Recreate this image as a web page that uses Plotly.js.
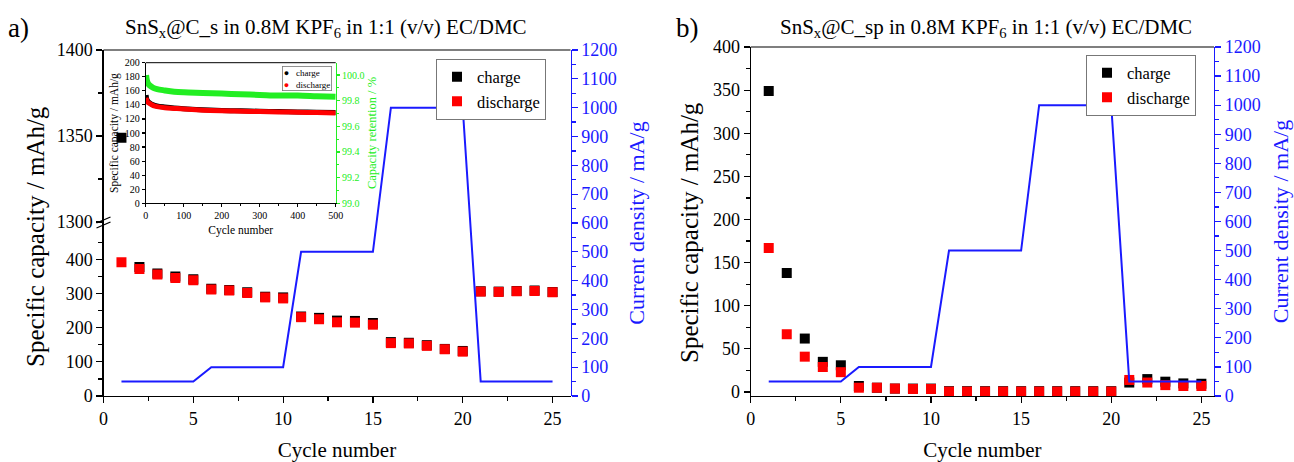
<!DOCTYPE html>
<html>
<head>
<meta charset="utf-8">
<script src="https://cdn.plot.ly/plotly-3.0.1.min.js"></script>
<style>html,body{margin:0;padding:0;background:#fff;}#chart{width:1294px;height:462px;}</style>
</head>
<body>
<div id="chart"></div>
<script>
// ---------- data ----------
const cycles = [1,2,3,4,5,6,7,8,9,10,11,12,13,14,15,16,17,18,19,20,21,22,23,24,25];

// panel a) SnSx@C_s
const chargeA    = [1349,378,359,350,342,314,311,304,291,289,233,229,221,220,214,158,156,149,138,132,307,306,308,309,305];
const dischargeA = [392,372,356,346,339,312,309,302,289,286,231,225,216,215,209,155,154,147,137,130,306,305,307,308,304];
const currentA   = [50,50,50,50,50,100,100,100,100,100,500,500,500,500,500,1000,1000,1000,1000,1000,50,50,50,50,50];

// panel b) SnSx@C_sp
const chargeB    = [349,138,62,35,31,7,5,4,4,4,1,1,1,1,1,1,1,1,1,1,11,15,12,10,9.6];
const dischargeB = [167,67,41,29,23,5,5,4,3.5,3.5,0.5,0.5,0.5,0.5,0.5,0.5,0.5,0.5,0.5,0.5,14,11,8,7,7];
const currentB   = [50,50,50,50,50,100,100,100,100,100,500,500,500,500,500,1000,1000,1000,1000,1000,50,50,50,50,50];

// inset (long cycling, values read at selected cycles)
const insetCycles    = [1,3,5,10,20,30,50,75,100,150,200,250,300,350,400,450,500];
const insetCharge    = [154,148,146,143,140,138.5,137,135.5,134.5,133,132,131.5,131,130.5,130,129.5,129];
const insetDischarge = [150,146,144,142,139,137.5,136,135,134,132.5,131.5,131,130.5,130,129.5,129,128.5];
const insetRetention = [100.0,99.96,99.94,99.92,99.9,99.89,99.88,99.87,99.865,99.86,99.855,99.85,99.845,99.84,99.84,99.835,99.83];

const titleA = "SnS<sub>x</sub>@C_s in 0.8M KPF<sub>6</sub> in 1:1 (v/v) EC/DMC";
const titleB = "SnS<sub>x</sub>@C_sp in 0.8M KPF<sub>6</sub> in 1:1 (v/v) EC/DMC";
const insetLegendNames = ["charge", "discharge"];

// ---------- layout helpers ----------
const W = 1294, H = 462;
const px = v => v / W;
const py = v => 1 - v / H;
const FONT = "Liberation Serif";
const BLUE = "#1a1aff";
const GREEN = "#22ee22";

const baseAxis = {
  showgrid: false, zeroline: false, showline: true, linecolor: "#000", linewidth: 1.2,
  ticks: "outside", ticklen: 6, tickwidth: 1.2, tickcolor: "#000",
  tickfont: {family: FONT, size: 18, color: "#000"}
};
function ax(extra) { return Object.assign({}, baseAxis, extra); }

const sq = (color) => ({symbol: "square", size: 10, color: color});

const traces = [
  // ---- panel a ----
  {x: cycles, y: chargeA, xaxis: "x", yaxis: "y", mode: "markers", marker: sq("#000"), name: "charge", legend: "legend", showlegend: true},
  {x: cycles, y: dischargeA, xaxis: "x", yaxis: "y", mode: "markers", marker: sq("#ff0000"), name: "discharge", legend: "legend", showlegend: true},
  {x: cycles, y: chargeA, xaxis: "x", yaxis: "y3", mode: "markers", marker: sq("#000"), name: "charge", showlegend: false},
  {x: cycles, y: currentA, xaxis: "x", yaxis: "y2", mode: "lines", line: {color: BLUE, width: 2}, name: "current", showlegend: false},
  // ---- inset ----
  {x: insetCycles, y: insetRetention, xaxis: "x4", yaxis: "y5", mode: "lines", line: {color: GREEN, width: 6, shape: "spline"}, name: "retention", showlegend: false},
  {x: insetCycles, y: insetCharge, xaxis: "x4", yaxis: "y4", mode: "lines", line: {color: "#000", width: 5, shape: "spline"}, name: "charge", showlegend: false},
  {x: insetCycles, y: insetDischarge, xaxis: "x4", yaxis: "y4", mode: "lines", line: {color: "#ff0000", width: 5, shape: "spline"}, name: "discharge", showlegend: false},
  // ---- panel b ----
  {x: cycles, y: currentB, xaxis: "x6", yaxis: "y7", mode: "lines", line: {color: BLUE, width: 2}, name: "current", showlegend: false},
  {x: cycles, y: chargeB, xaxis: "x6", yaxis: "y6", mode: "markers", marker: sq("#000"), name: "charge", legend: "legend2", showlegend: true},
  {x: cycles, y: dischargeB, xaxis: "x6", yaxis: "y6", mode: "markers", marker: sq("#ff0000"), name: "discharge", legend: "legend2", showlegend: true}
];

// panel a geometry
const aL = 103.5, aR = 570.5, aTop = 50, aBreak = 222, aBot = 396;
// panel b geometry
const bL = 750.7, bR = 1214, bTop = 47, bBot = 396;
// inset geometry
const iL = 145.7, iR = 335.7, iTop = 62.7, iBot = 203.3;

const legendBase = {
  bgcolor: "#fff", bordercolor: "#777", borderwidth: 1, xanchor: "left", yanchor: "top",
  font: {family: FONT, size: 16.5, color: "#000"}, tracegroupgap: 0, itemwidth: 30
};

const insetLegendText =
  "<span style='color:#000'>●</span>   " + insetLegendNames[0] + "<br>" +
  "<span style='color:#ff0000'>●</span>   " + insetLegendNames[1];

const layout = {
  width: W, height: H,
  margin: {l: 0, r: 0, t: 0, b: 0},
  paper_bgcolor: "#fff", plot_bgcolor: "rgba(0,0,0,0)",
  font: {family: FONT, color: "#000"},
  // panel a
  xaxis: ax({domain: [px(aL), px(aR)], range: [0, 26], anchor: "y", tickvals: [0,5,10,15,20,25],
    minor: {tickvals: [2.5,7.5,12.5,17.5,22.5], ticks: "outside", ticklen: 4, tickcolor: "#000"},
    title: {text: "Cycle number", font: {family: FONT, size: 21}, standoff: 18}}),
  yaxis: ax({domain: [py(aBot), py(aBreak)], range: [0, 510], anchor: "x", tickvals: [0,100,200,300,400],
    minor: {tickvals: [50,150,250,350,450], ticks: "outside", ticklen: 4, tickcolor: "#000"}}),
  yaxis3: ax({domain: [py(aBreak), py(aTop)], range: [1300, 1400], anchor: "x", tickvals: [1300,1350,1400],
    minor: {tickvals: [1325,1375], ticks: "outside", ticklen: 4, tickcolor: "#000"}}),
  yaxis2: ax({domain: [py(aBot), py(aTop)], range: [0, 1200], anchor: "x", side: "right",
    linecolor: BLUE, tickcolor: BLUE, tickfont: {family: FONT, size: 18, color: BLUE},
    tickvals: [0,100,200,300,400,500,600,700,800,900,1000,1100,1200],
    minor: {tickvals: [50,150,250,350,450,550,650,750,850,950,1050,1150], ticks: "outside", ticklen: 4, tickcolor: BLUE},
    title: {text: "Current density / mA/g", font: {family: FONT, size: 22, color: BLUE}, standoff: 12}}),
  // inset
  xaxis4: ax({domain: [px(iL), px(iR)], range: [0, 500], anchor: "y4", tickvals: [0,100,200,300,400,500],
    ticklen: 3, tickfont: {family: FONT, size: 10, color: "#000"}, linewidth: 1,
    minor: {tickvals: [50,150,250,350,450], ticks: "outside", ticklen: 2, tickcolor: "#000"},
    title: {text: "Cycle number", font: {family: FONT, size: 11.5}, standoff: 5}}),
  yaxis4: ax({domain: [py(iBot), py(iTop)], range: [0, 200], anchor: "x4", dtick: 20, tick0: 0,
    ticklen: 3, tickfont: {family: FONT, size: 10, color: "#000"}, linewidth: 1,
    title: {text: "Specific capacity / mAh/g", font: {family: FONT, size: 11.5}, standoff: 3}}),
  yaxis5: ax({overlaying: "y4", anchor: "x4", side: "right", range: [99.0, 100.096],
    tickvals: [99.0,99.2,99.4,99.6,99.8,100.0], tickformat: ".1f",
    ticklen: 3, linewidth: 1.2, linecolor: GREEN, tickcolor: GREEN,
    tickfont: {family: FONT, size: 10, color: GREEN},
    minor: {tickvals: [99.1,99.3,99.5,99.7,99.9], ticks: "outside", ticklen: 2, tickcolor: GREEN},
    title: {text: "Capacity retention / %", font: {family: FONT, size: 12.5, color: GREEN}, standoff: 3}}),
  // panel b
  xaxis6: ax({domain: [px(bL), px(bR)], range: [0, 25.7], anchor: "y6", tickvals: [0,5,10,15,20,25],
    minor: {tickvals: [2.5,7.5,12.5,17.5,22.5], ticks: "outside", ticklen: 4, tickcolor: "#000"},
    title: {text: "Cycle number", font: {family: FONT, size: 21}, standoff: 18}}),
  yaxis6: ax({domain: [py(bBot), py(bTop)], range: [-4.6, 400], anchor: "x6", tickvals: [0,50,100,150,200,250,300,350,400],
    minor: {tickvals: [25,75,125,175,225,275,325,375], ticks: "outside", ticklen: 4, tickcolor: "#000"}}),
  yaxis7: ax({overlaying: "y6", anchor: "x6", side: "right", range: [0, 1200],
    linecolor: BLUE, tickcolor: BLUE, tickfont: {family: FONT, size: 18, color: BLUE},
    tickvals: [0,100,200,300,400,500,600,700,800,900,1000,1100,1200],
    minor: {tickvals: [50,150,250,350,450,550,650,750,850,950,1050,1150], ticks: "outside", ticklen: 4, tickcolor: BLUE},
    title: {text: "Current density / mA/g", font: {family: FONT, size: 22, color: BLUE}, standoff: 12}}),
  legend: Object.assign({}, legendBase, {x: px(436), y: py(58.5)}),
  legend2: Object.assign({}, legendBase, {x: px(1086), y: py(54.5)}),
  shapes: [
    // top frame lines
    {type: "line", xref: "paper", yref: "paper", x0: px(aL), x1: px(aR), y0: py(aTop), y1: py(aTop), line: {color: "#000", width: 1.2}},
    {type: "line", xref: "paper", yref: "paper", x0: px(bL), x1: px(bR), y0: py(bTop), y1: py(bTop), line: {color: "#000", width: 1.2}},
    // inset top frame
    {type: "line", xref: "paper", yref: "paper", x0: px(iL), x1: px(iR), y0: py(iTop), y1: py(iTop), line: {color: "#000", width: 1}},
    // axis break marks
    {type: "line", xref: "paper", yref: "paper", x0: px(aL - 7), x1: px(aL + 7), y0: py(aBreak + 1), y1: py(aBreak - 5), line: {color: "#000", width: 1.3}},
    {type: "line", xref: "paper", yref: "paper", x0: px(aL - 7), x1: px(aL + 7), y0: py(aBreak + 6), y1: py(aBreak), line: {color: "#000", width: 1.3}}
  ],
  annotations: [
    {text: "a)", xref: "paper", yref: "paper", x: px(6), y: py(28), xanchor: "left", yanchor: "middle", showarrow: false, font: {family: FONT, size: 27}},
    {text: "b)", xref: "paper", yref: "paper", x: px(674), y: py(28), xanchor: "left", yanchor: "middle", showarrow: false, font: {family: FONT, size: 27}},
    {text: titleA, xref: "paper", yref: "paper", x: px(326), y: py(28), xanchor: "center", yanchor: "middle", showarrow: false, font: {family: FONT, size: 21}},
    {text: titleB, xref: "paper", yref: "paper", x: px(986), y: py(28), xanchor: "center", yanchor: "middle", showarrow: false, font: {family: FONT, size: 21}},
    {text: "Specific capacity / mAh/g", xref: "paper", yref: "paper", x: px(35), y: py(237), xanchor: "center", yanchor: "middle", textangle: -90, showarrow: false, font: {family: FONT, size: 25}},
    {text: "Specific capacity / mAh/g", xref: "paper", yref: "paper", x: px(690), y: py(233), xanchor: "center", yanchor: "middle", textangle: -90, showarrow: false, font: {family: FONT, size: 25}},
    {text: insetLegendText, xref: "paper", yref: "paper", x: px(332), y: py(66), xanchor: "right", yanchor: "top", align: "left", showarrow: false,
      bgcolor: "#fff", bordercolor: "#777", borderwidth: 0.8, borderpad: 1, font: {family: FONT, size: 9, color: "#000"}}
  ]
};

Plotly.newPlot("chart", traces, layout, {staticPlot: true, displayModeBar: false});
</script>
</body>
</html>
